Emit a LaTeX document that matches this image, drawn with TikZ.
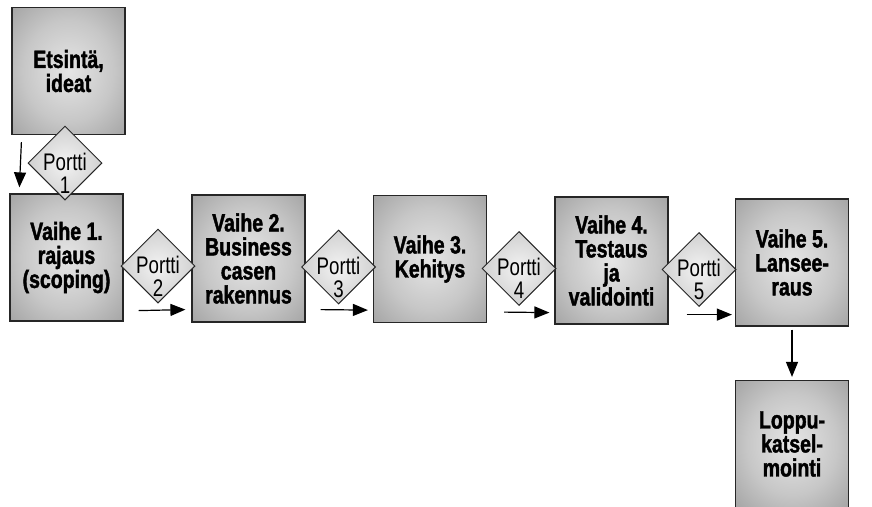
\documentclass[tikz,border=0pt]{standalone}
\usepackage{fontspec}
\newfontfamily\kapea{Liberation Sans}[FakeStretch=0.78, BoldFeatures={FakeBold=1.6}]
\usepackage{tikz}
\usetikzlibrary{shapes}
\usetikzlibrary{arrows.meta}
\pgfdeclareradialshading{laatikko}{\pgfpoint{0bp}{0bp}}{color(0bp)=(black!10); color(20bp)=(black!22); color(50bp)=(black!48); color(72bp)=(black!56)}
\pgfdeclareradialshading{vinonelio}{\pgfpoint{0bp}{0bp}}{color(0bp)=(black!5); color(25bp)=(black!18); color(50bp)=(black!40); color(72bp)=(black!45)}
\tikzset{
  vaihe/.style={draw=black!85, line width=1.2pt, shading=laatikko, minimum width=113pt, minimum height=127pt, align=center, inner sep=0pt, font=\kapea\bfseries\fontsize{25}{24}\selectfont},
  portti/.style={shape=diamond, draw=black!85, line width=1pt, shading=vinonelio, minimum width=74pt, minimum height=74pt, inner sep=0pt},
  porttiteksti/.style={align=center, inner sep=0pt, yshift=-10pt, font=\kapea\fontsize{24}{23}\selectfont},
  nuoli/.style={-{Triangle[length=15pt,width=12pt]}, line width=1.2pt}
}
\newcommand{\vaihe}[4]{\node[vaihe] (#1) at ( #2 , #3 ) {#4};}
\newcommand{\portti}[4]{\node[portti, label={[porttiteksti]center:Portti\\#4}] (#1) at ( #2 , #3 ) {};}

\begin{document}
\begin{tikzpicture}[x=1pt,y=-1pt]
    \useasboundingbox (0,0) rectangle (872,506);

    % boxes
    \vaihe{ets}{68.5}{71}{Etsintä,\\ideat}
    \vaihe{v1}{66.5}{257.5}{Vaihe 1.\\rajaus\\(scoping)}
    \vaihe{v2}{248.5}{258.5}{Vaihe 2.\\Business\\casen\\rakennus}
    \vaihe{v3}{430}{259}{Vaihe 3.\\Kehitys}
    \vaihe{v4}{611.5}{260.5}{Vaihe 4.\\Testaus\\ja\\validointi}
    \vaihe{v5}{792}{262.5}{Vaihe 5.\\Lansee-\\raus}
    \vaihe{loppu}{792}{444}{Loppu-\\katsel-\\mointi}

    % arrows
    \draw[nuoli] ([xshift=10pt,yshift=-7pt]ets.south west) -- ([xshift=10pt,yshift=6pt]v1.north west);
    \draw[nuoli] ([xshift=15pt,yshift=11pt]v1.south east) -- ([xshift=-6pt,yshift=13pt]v2.south west);
    \draw[nuoli] ([xshift=15pt,yshift=13pt]v2.south east) -- ([xshift=-5pt,yshift=13pt]v3.south west);
    \draw[nuoli] ([xshift=17pt,yshift=11pt]v3.south east) -- ([xshift=-5pt,yshift=12pt]v4.south west);
    \draw[nuoli] ([xshift=18pt,yshift=10pt]v4.south east) -- ([xshift=-3pt,yshift=12pt]v5.south west);
    \draw[nuoli, shorten <=3pt, shorten >=3pt] (v5.south) -- (loppu.north);

    % gates
    \portti{p1}{65}{163}{1}
    \portti{p2}{158}{266}{2}
    \portti{p3}{338.5}{267}{3}
    \portti{p4}{519}{268.5}{4}
    \portti{p5}{699}{269.5}{5}
\end{tikzpicture}
\end{document}
